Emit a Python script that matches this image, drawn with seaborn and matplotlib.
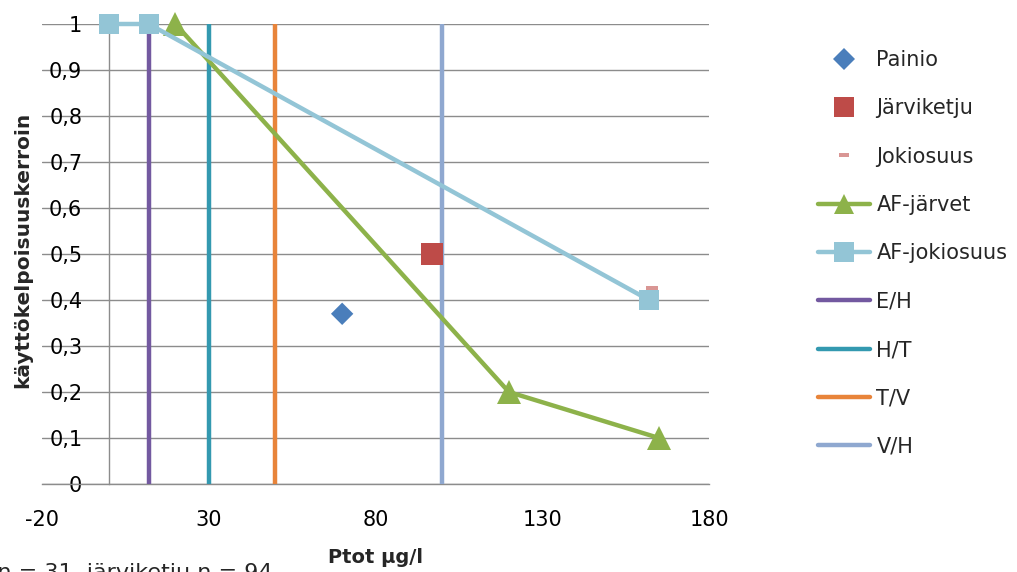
import numpy as np
import pandas as pd
import matplotlib
matplotlib.use("Agg")
import matplotlib.pyplot as plt
import seaborn as sns
from matplotlib.lines import Line2D

# ---- data ----
painio_x = [70]
painio_y = [0.37]
jarviketju_x = [97]
jarviketju_y = [0.5]
jokiosuus_x = [163]
jokiosuus_y = [0.425]
af_jarvet_x = [20, 120, 165]
af_jarvet_y = [1.0, 0.2, 0.1]
af_jokiosuus_x = [0, 12, 162]
af_jokiosuus_y = [1.0, 1.0, 0.4]
class_names = ["E/H", "H/T", "T/V", "V/H"]
class_limits = [12, 30, 50, 100]
class_y = [0, 1]
x_ticks = [-20, 30, 80, 130, 180]
y_ticks = [0, 0.1, 0.2, 0.3, 0.4, 0.5, 0.6, 0.7, 0.8, 0.9, 1.0]
y_ticklabels = ["0", "0,1", "0,2", "0,3", "0,4", "0,5", "0,6", "0,7", "0,8", "0,9", "1"]

colors = {
    "Painio": "#4A7EBB",
    "Järviketju": "#BE4B48",
    "Jokiosuus": "#D99694",
    "AF-järvet": "#8DB24A",
    "AF-jokiosuus": "#93C5D6",
    "E/H": "#7359A0",
    "H/T": "#3399B0",
    "T/V": "#E8843A",
    "V/H": "#8FA8D0",
}

sns.set_style("white")
plt.rcParams["font.family"] = ["DejaVu Sans"]

W, H = 1017, 572
fig = plt.figure(figsize=(W / 100, H / 100), dpi=100)
ax = fig.add_axes([42 / W, 1 - 484 / H, (709 - 42) / W, (484 - 24) / H])

# vertical class limits
for name, xv in zip(class_names, class_limits):
    sns.lineplot(x=[xv, xv], y=class_y, ax=ax, color=colors[name], lw=3.2,
                 estimator=None, sort=False, legend=False, zorder=3)

sns.scatterplot(x=painio_x, y=painio_y, ax=ax, marker="D", s=130,
                color=colors["Painio"], edgecolor="none", zorder=4, legend=False)
sns.scatterplot(x=jarviketju_x, y=jarviketju_y, ax=ax, marker="s", s=260,
                color=colors["Järviketju"], edgecolor="none", zorder=4, legend=False)
rect = [(-1, -0.45), (1, -0.45), (1, 0.45), (-1, 0.45), (-1, -0.45)]
sns.scatterplot(x=jokiosuus_x, y=jokiosuus_y, ax=ax, marker=rect, s=70,
                color=colors["Jokiosuus"], edgecolor="none", zorder=4, legend=False)

sns.lineplot(x=af_jarvet_x, y=af_jarvet_y, ax=ax, color=colors["AF-järvet"], lw=3.2,
             marker="^", markersize=17, markeredgewidth=0, estimator=None, sort=False,
             legend=False, zorder=5, clip_on=False)
sns.lineplot(x=af_jokiosuus_x, y=af_jokiosuus_y, ax=ax, color=colors["AF-jokiosuus"], lw=3.2,
             marker="s", markersize=15, markeredgewidth=0, estimator=None, sort=False,
             legend=False, zorder=6, clip_on=False)

ax.set_xlim(-20, 180)
ax.set_ylim(0, 1)
ax.set_xticks(x_ticks)
ax.set_xticklabels([str(v) for v in x_ticks])
ax.set_yticks(y_ticks)
ax.set_yticklabels(y_ticklabels)
ax.grid(axis="y", color="#8C8C8C", lw=1.0)
ax.grid(axis="x", visible=False)
ax.set_axisbelow(True)

for s in ["top", "right"]:
    ax.spines[s].set_visible(False)
ax.spines["left"].set_position(("data", 0))
ax.spines["left"].set_color("#8C8C8C")
ax.spines["bottom"].set_color("#8C8C8C")
ax.spines["left"].set_linewidth(1.0)
ax.spines["bottom"].set_linewidth(1.0)
ax.tick_params(axis="y", length=0, pad=19, labelsize=15, colors="#8C8C8C", labelcolor="black")
ax.tick_params(axis="x", length=6, width=1, pad=12.7, labelsize=15, colors="#8C8C8C",
               labelcolor="black", direction="out")

ax.set_xlabel("Ptot µg/l", fontsize=14, fontweight="bold")
ax.xaxis.set_label_coords(0.5, -0.14)
ax.set_ylabel("käyttökelpoisuuskerroin", fontsize=14.5, fontweight="bold")
ax.yaxis.set_label_coords(-0.015, 0.509)

handles = [
    Line2D([], [], ls="none", marker="D", ms=11, color=colors["Painio"], mew=0),
    Line2D([], [], ls="none", marker="s", ms=15, color=colors["Järviketju"], mew=0),
    Line2D([], [], ls="none", marker=rect, ms=7, color=colors["Jokiosuus"], mew=0),
    Line2D([], [], lw=3.2, marker="^", ms=15, color=colors["AF-järvet"], mew=0),
    Line2D([], [], lw=3.2, marker="s", ms=14, color=colors["AF-jokiosuus"], mew=0),
] + [Line2D([], [], lw=3.2, color=colors[n]) for n in class_names]
labels = ["Painio", "Järviketju", "Jokiosuus", "AF-järvet", "AF-jokiosuus"] + class_names
fig.legend(handles, labels, loc="upper left", bbox_to_anchor=(818 / W, 1 - 50 / H),
           frameon=False, fontsize=15, handlelength=2.5, handletextpad=0.3,
           labelspacing=1.36, borderpad=0, borderaxespad=0)

fig.text(272 / W, -7 / H, "Painio n = 31, järviketju n = 94", ha="right", va="baseline",
         fontsize=16)

fig.savefig("out.png", dpi=100)
